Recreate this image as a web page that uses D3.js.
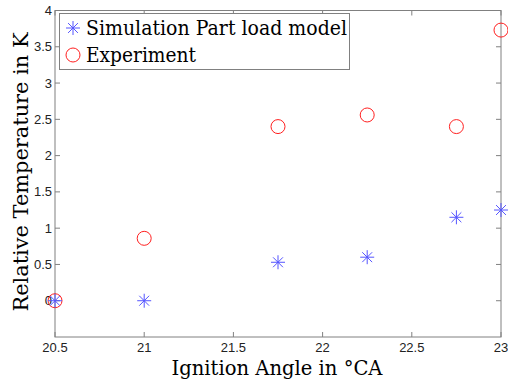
<!DOCTYPE html>
<html>
<head>
<meta charset="utf-8">
<script src="https://cdn.jsdelivr.net/npm/d3@7"></script>
<style>
  body { margin: 0; background: #fff; }
  svg { display: block; }
  .serif { font-family: "DejaVu Serif", serif; }
  .sans { font-family: "Liberation Sans", Arial, Helvetica, sans-serif; }
</style>
</head>
<body>
<div id="chart"></div>
<script>
// ignition angle (°CA)
const angles = [20.5, 21, 21.75, 22.25, 22.75, 23];
const simValues = [0, 0, 0.53, 0.6, 1.15, 1.25];
const expValues = [0, 0.86, 2.4, 2.56, 2.4, 3.73];
const xTicks = [20.5, 21, 21.5, 22, 22.5, 23];
const yTicks = [0, 0.5, 1, 1.5, 2, 2.5, 3, 3.5, 4];
const legendLabels = ["Simulation Part load model", "Experiment"];

const W = 508, H = 380;
const m = {left: 55, right: 7, top: 10.5, bottom: 43};

const svg = d3.select("#chart").append("svg")
    .attr("width", W).attr("height", H);

const x = d3.scaleLinear().domain([20.5, 23]).range([m.left, W - m.right]);
const y = d3.scaleLinear().domain([-0.5, 4]).range([H - m.bottom, m.top]);

const axisCol = "#808080";

// squeeze serif text to the reference width if the font runs wide
function fitWidth(sel, w) {
    sel.each(function () {
        if (this.getComputedTextLength() > w)
            d3.select(this).attr("textLength", w).attr("lengthAdjust", "spacingAndGlyphs");
    });
}

// box
svg.append("rect")
    .attr("x", m.left).attr("y", m.top)
    .attr("width", W - m.left - m.right).attr("height", H - m.top - m.bottom)
    .attr("fill", "none").attr("stroke", axisCol).attr("stroke-width", 1);

// ticks pointing inward on all four sides
const tl = 5;
const g = svg.append("g").attr("stroke", axisCol).attr("stroke-width", 1);
xTicks.forEach(t => {
    g.append("line").attr("x1", x(t)).attr("x2", x(t))
        .attr("y1", y(-0.5)).attr("y2", y(-0.5) - tl);
    g.append("line").attr("x1", x(t)).attr("x2", x(t))
        .attr("y1", y(4)).attr("y2", y(4) + tl);
});
yTicks.forEach(t => {
    g.append("line").attr("x1", x(20.5)).attr("x2", x(20.5) + tl)
        .attr("y1", y(t)).attr("y2", y(t));
    g.append("line").attr("x1", x(23)).attr("x2", x(23) - tl)
        .attr("y1", y(t)).attr("y2", y(t));
});

// tick labels
svg.append("g").selectAll("text").data(xTicks).join("text")
    .attr("class", "sans")
    .attr("x", d => x(d)).attr("y", y(-0.5) + 15)
    .attr("text-anchor", "middle")
    .style("font-size", "13px").attr("fill", "#222")
    .text(d => d);
svg.append("g").selectAll("text").data(yTicks).join("text")
    .attr("class", "sans")
    .attr("x", x(20.5) - 3).attr("y", d => y(d) + 4.5)
    .attr("text-anchor", "end")
    .style("font-size", "13px").attr("fill", "#222")
    .text(d => d);

// axis titles
svg.append("text")
    .attr("class", "serif")
    .attr("x", 277).attr("y", 375)
    .attr("text-anchor", "middle")
    .style("font-size", "21px")
    .text("Ignition Angle in °CA")
    .call(fitWidth, 211);
svg.append("text")
    .attr("class", "serif")
    .attr("transform", `translate(28,172) rotate(-90)`)
    .attr("text-anchor", "middle")
    .style("font-size", "21px")
    .text("Relative Temperature in K")
    .call(fitWidth, 279);

const blue = "#5555ff", red = "#ff2020";
const star = (sel, r) => {
    sel.append("path")
        .attr("d", () => {
            const d = r * Math.SQRT1_2;
            return `M${-r},0H${r}M0,${-r}V${r}M${-d},${-d}L${d},${d}M${-d},${d}L${d},${-d}`;
        })
        .attr("stroke", blue).attr("stroke-width", 1).attr("fill", "none");
};

// experiment circles
svg.append("g").selectAll("circle").data(angles).join("circle")
    .attr("cx", d => x(d)).attr("cy", (d, i) => y(expValues[i]))
    .attr("r", 7).attr("fill", "none").attr("stroke", red).attr("stroke-width", 1);

// simulation stars
svg.append("g").selectAll("g").data(angles).join("g")
    .attr("transform", (d, i) => `translate(${x(d)},${y(simValues[i])})`)
    .each(function () { star(d3.select(this), 7); });

// legend
const lg = svg.append("g");
lg.append("rect").attr("x", 59.5).attr("y", 13.5).attr("width", 290).attr("height", 56)
    .attr("fill", "#fff").attr("stroke", axisCol).attr("stroke-width", 1);
star(lg.append("g").attr("transform", "translate(73,28)"), 7);
lg.append("circle").attr("cx", 73).attr("cy", 55).attr("r", 7)
    .attr("fill", "none").attr("stroke", red);
const legendWidths = [261, 110];
lg.selectAll("text").data(legendLabels).join("text")
    .attr("class", "serif")
    .attr("x", 86).attr("y", (d, i) => 35 + i * 27)
    .style("font-size", "21px")
    .text(d => d)
    .each(function (d, i) { fitWidth(d3.select(this), legendWidths[i]); });
</script>
</body>
</html>
